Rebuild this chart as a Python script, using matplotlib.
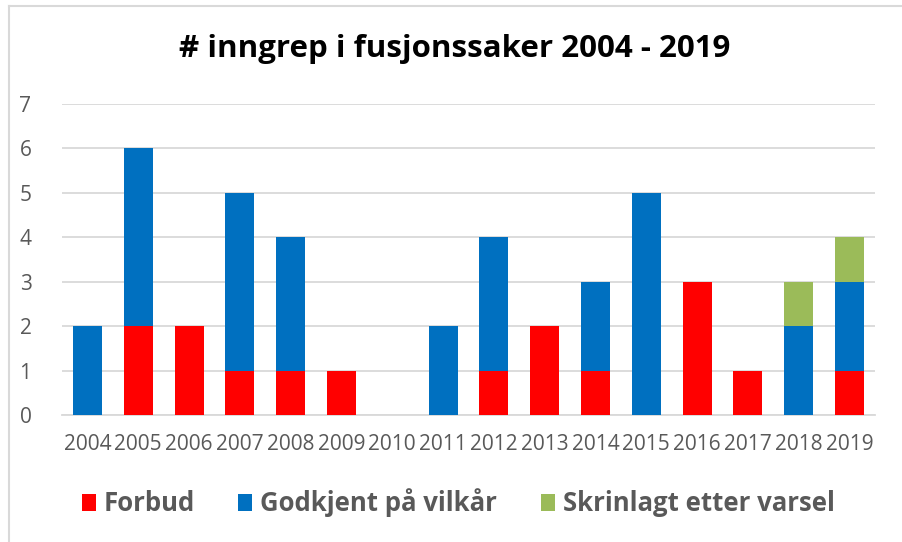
import matplotlib
matplotlib.use("Agg")
import matplotlib.pyplot as plt
import numpy as np
from matplotlib.patches import Patch
from matplotlib.lines import Line2D

years = ["2004", "2005", "2006", "2007", "2008", "2009", "2010", "2011",
         "2012", "2013", "2014", "2015", "2016", "2017", "2018", "2019"]
forbud = [0, 2, 2, 1, 1, 1, 0, 0, 1, 2, 1, 0, 3, 1, 0, 1]
godkjent = [2, 4, 0, 4, 3, 0, 0, 2, 3, 0, 2, 5, 0, 0, 2, 2]
skrinlagt = [0, 0, 0, 0, 0, 0, 0, 0, 0, 0, 0, 0, 0, 0, 1, 1]
series_names = ["Forbud", "Godkjent på vilkår", "Skrinlagt etter varsel"]

RED = "#FF0000"; BLUE = "#0070C0"; GREEN = "#9BBB59"
GRID = "#D9D9D9"; TXT = "#595959"

plt.rcParams["font.family"] = ["Open Sans", "DejaVu Sans"]

W, H = 902, 542
fig = plt.figure(figsize=(W / 100, H / 100), dpi=100)
ax = fig.add_axes([62 / W, 127 / H, 813 / W, 311 / H])

x = np.arange(len(years))
f = np.array(forbud, float); g = np.array(godkjent, float); s = np.array(skrinlagt, float)
bw = 0.57
ax.bar(x, f, bw, color=RED, zorder=3)
ax.bar(x, g, bw, bottom=f, color=BLUE, zorder=3)
ax.bar(x, s, bw, bottom=f + g, color=GREEN, zorder=3)

ax.set_xlim(-0.5, len(years) - 0.5)
ax.set_ylim(0, 7)
ax.set_yticks(range(0, 8))
ax.set_xticks(x)
ax.set_xticklabels(years)
ax.grid(axis="y", color=GRID, linewidth=1.3, zorder=0)
ax.set_axisbelow(True)
for sp in ["top", "right", "left"]:
    ax.spines[sp].set_visible(False)
ax.spines["bottom"].set_color(GRID)
ax.spines["bottom"].set_linewidth(1.3)
ax.tick_params(axis="both", length=0, colors=TXT, labelsize=15)
ax.tick_params(axis="y", pad=22)
ax.tick_params(axis="x", pad=14)

fig.text(455 / W, 1 - 49 / H, "# inngrep i fusjonssaker 2004 - 2019",
         ha="center", va="center", fontsize=22.5, fontweight="bold", color="black")

handles = [Patch(facecolor=c, edgecolor="none") for c in (RED, BLUE, GREEN)]
leg = fig.legend(handles, series_names, loc="center", bbox_to_anchor=(458 / W, 1 - 503 / H),
                 ncol=3, frameon=False, fontsize=18.5, handlelength=0.55, handleheight=0.65,
                 handletextpad=0.3, columnspacing=1.7)
for t in leg.get_texts():
    t.set_color(TXT); t.set_fontweight("bold")

# chart frame (only top and left visible in the crop)
fig.add_artist(Line2D([9 / W, 9 / W], [0, 1 - 6 / H], transform=fig.transFigure, color=GRID, lw=1.5))
fig.add_artist(Line2D([9 / W, 1], [1 - 6 / H, 1 - 6 / H], transform=fig.transFigure, color=GRID, lw=1.5))

fig.savefig("out.png", dpi=100, facecolor="white")
